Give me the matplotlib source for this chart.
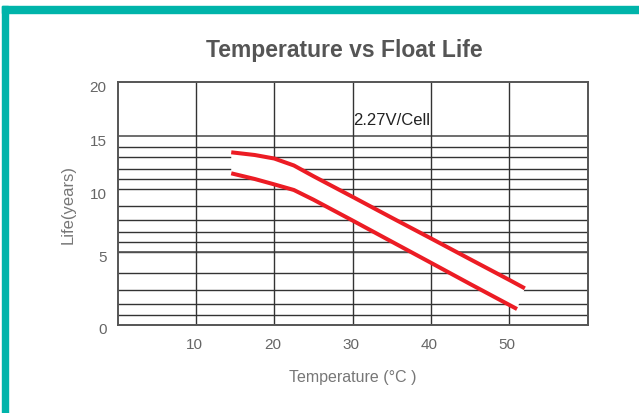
import matplotlib
matplotlib.use("Agg")
import matplotlib.pyplot as plt
import matplotlib.transforms as mtransforms
from matplotlib.patches import Rectangle
import numpy as np

plt.rcParams['font.family'] = ['Liberation Sans', 'DejaVu Sans']

temps_upper = [14.5, 17.5, 20, 22.5, 25, 30, 35, 40, 45, 50, 52]
life_upper = [13.5, 13.23, 12.89, 12.27, 11.28, 9.53, 8.14, 6.37, 4.67, 3.59, 3.07]
temps_lower = [14.5, 17.5, 20, 22.5, 25, 30, 35, 40, 45, 50, 51]
life_lower = [11.55, 11.02, 10.47, 9.94, 9.36, 7.93, 6.06, 4.50, 3.34, 1.92, 1.53]

x_ticks = [10, 20, 30, 40, 50]
y_ticks = [0, 5, 10, 15, 20]
y_grid = list(range(1, 15))
note = "2.27V/Cell"

# the y axis of the original is not linear: year -> height on the sheet
scale_years = [0, 1, 2, 3, 4, 5, 6, 7, 8, 9, 10, 11, 12, 13, 14, 15, 20]
scale_height = [0, 9.8, 20.5, 35, 51.3, 72.2, 82.2, 92.8, 104.8, 118.8,
                135.5, 145.3, 156, 167.2, 177.2, 188.8, 242.2]

def fwd(v):
    return np.interp(v, scale_years, scale_height)

def inv(v):
    return np.interp(v, scale_height, scale_years)

fig = plt.figure(figsize=(6.39, 4.14), dpi=100)
ax = fig.add_axes([117.7/639, 1-325.5/414, (587.5-117.7)/639, (325.5-83.3)/414])
ax.set_yscale('function', functions=(fwd, inv))
ax.set_xlim(0, 60)
ax.set_ylim(0, 20)

# frame of the page
teal = '#00b4aa'
fig.patches.append(Rectangle((2/639, 1-13.7/414), 1, 6.4/414, transform=fig.transFigure,
                             color=teal, zorder=0))
fig.patches.append(Rectangle((2/639, 0), 5.7/639, 1-7.3/414, transform=fig.transFigure,
                             color=teal, zorder=0))

for y in y_grid:
    ax.axhline(y, color='#333333', lw=1.0, zorder=1)
ax.axhline(15, color='#555555', lw=1.2, zorder=1)
ax.axhline(5, color='#555555', lw=1.2, zorder=1)
for x in x_ticks:
    ax.axvline(x, color='#333333', lw=1.0, zorder=1)

# white band between the two curves
band_x = temps_upper + temps_lower[::-1]
band_y = life_upper + life_lower[::-1]
ax.fill(band_x, band_y, color='white', zorder=2, lw=0)

ax.plot(temps_upper, life_upper, color='#ec1c24', lw=2.9, solid_capstyle='butt', zorder=3)
ax.plot(temps_lower, life_lower, color='#ec1c24', lw=2.9, solid_capstyle='butt', zorder=3)

ax.text(30.1, 16.56, note, fontsize=12, color='#222222', va='center', ha='left', zorder=4)

for s in ax.spines.values():
    s.set_color('#555555')
    s.set_linewidth(1.4)

ax.set_xticks(x_ticks)
ax.set_yticks(y_ticks)
ax.tick_params(axis='both', length=0, labelsize=11, labelcolor='#666666')
ax.tick_params(axis='x', pad=9)
ax.tick_params(axis='y', pad=8)
off = mtransforms.ScaledTranslation(0, -3.5/100, fig.dpi_scale_trans)
for lab in ax.get_yticklabels():
    lab.set_transform(lab.get_transform() + off)
offx = mtransforms.ScaledTranslation(-2/100, 0, fig.dpi_scale_trans)
for lab in ax.get_xticklabels():
    lab.set_transform(lab.get_transform() + offx)

ax.set_xlabel("Temperature (°C )", fontsize=11.5, color='#777777', labelpad=13)
ax.set_ylabel("Life(years)", fontsize=12, color='#777777', labelpad=10)

fig.text(344/639, 1-50/414, "Temperature vs Float Life", fontsize=16.5, fontweight='bold',
         color='#555555', ha='center', va='center')

fig.savefig("out.png", dpi=100)
